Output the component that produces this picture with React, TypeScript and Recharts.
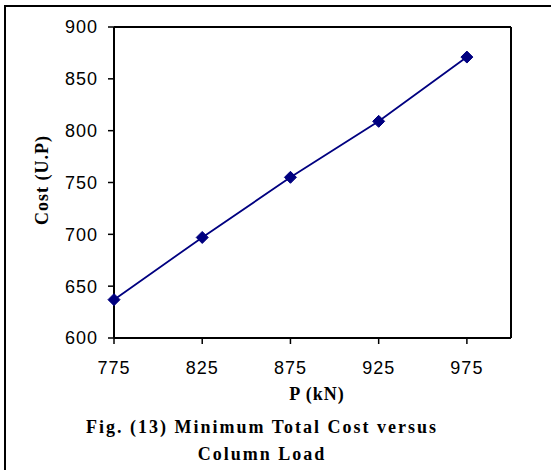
import { LineChart, Line, XAxis, YAxis, ReferenceLine } from 'recharts';

const loads = [775, 825, 875, 925, 975];
const costs = [637, 697, 755, 809, 871];
const xTicks = [775, 825, 875, 925, 975];
const yTicks = [600, 650, 700, 750, 800, 850, 900];

const data = loads.map((p, i) => ({ p, cost: costs[i] }));

const NAVY = '#000080';
const serif = '"Liberation Serif", "Times New Roman", serif';
const sans = '"Liberation Sans", Arial, sans-serif';

function Diamond(props: any) {
  const { cx, cy } = props;
  if (cx == null || cy == null) return null;
  const r = 6;
  return (
    <path
      d={`M${cx},${cy - r} L${cx + r},${cy} L${cx},${cy + r} L${cx - r},${cy} Z`}
      fill={NAVY}
      stroke={NAVY}
    />
  );
}

export default function App() {
  const tickStyle = { fill: '#000', fontSize: 18, fontFamily: sans, letterSpacing: 1 };
  return (
    <div style={{ position: 'absolute', left: 0, top: 0, width: 551, height: 470, overflow: 'hidden', background: '#fff' }}>
      {/* frame round the figure, cut at right and bottom */}
      <div
        style={{
          position: 'absolute',
          left: 4,
          top: 5,
          width: 560,
          height: 480,
          border: '2px solid #000',
        }}
      />
      <div style={{ position: 'absolute', left: 0, top: 0 }}>
        <LineChart width={551} height={470} data={data} margin={{ top: 27, right: 40, bottom: 62, left: 0 }}>
          <XAxis
            dataKey="p"
            type="number"
            domain={[775, 1000]}
            ticks={xTicks}
            tick={tickStyle}
            tickSize={6}
            tickMargin={17}
            height={70}
            axisLine={{ stroke: '#000', strokeWidth: 2 }}
            tickLine={{ stroke: '#000', strokeWidth: 1.5 }}
          />
          <YAxis
            type="number"
            domain={[600, 900]}
            ticks={yTicks}
            tick={tickStyle}
            tickSize={6}
            tickMargin={10}
            width={114}
            axisLine={{ stroke: '#000', strokeWidth: 2 }}
            tickLine={{ stroke: '#000', strokeWidth: 1.5 }}
          />
          <ReferenceLine y={900} stroke="#000" strokeWidth={2} />
          <ReferenceLine x={1000} stroke="#000" strokeWidth={2} />
          <Line
            dataKey="cost"
            stroke={NAVY}
            strokeWidth={1.8}
            dot={<Diamond />}
            activeDot={false}
            isAnimationActive={false}
          />
        </LineChart>
      </div>
      <div
        style={{
          position: 'absolute',
          left: 42,
          top: 180,
          transform: 'translate(-50%, -50%) rotate(-90deg)',
          whiteSpace: 'nowrap',
          fontFamily: serif,
          fontWeight: 'bold',
          fontSize: 18,
          letterSpacing: 1,
        }}
      >
        Cost (U.P)
      </div>
      <div
        style={{
          position: 'absolute',
          left: 317,
          top: 394,
          transform: 'translate(-50%, -50%)',
          whiteSpace: 'nowrap',
          fontFamily: serif,
          fontWeight: 'bold',
          fontSize: 18,
          letterSpacing: 1,
        }}
      >
        P (kN)
      </div>
      <div
        style={{
          position: 'absolute',
          left: 262,
          top: 441,
          transform: 'translate(-50%, -50%)',
          textAlign: 'center',
          whiteSpace: 'nowrap',
          fontFamily: serif,
          fontWeight: 'bold',
          fontSize: 18,
          letterSpacing: 2,
          lineHeight: '27px',
        }}
      >
        Fig. (13) Minimum Total Cost versus
        <br />
        Column Load
      </div>
    </div>
  );
}
